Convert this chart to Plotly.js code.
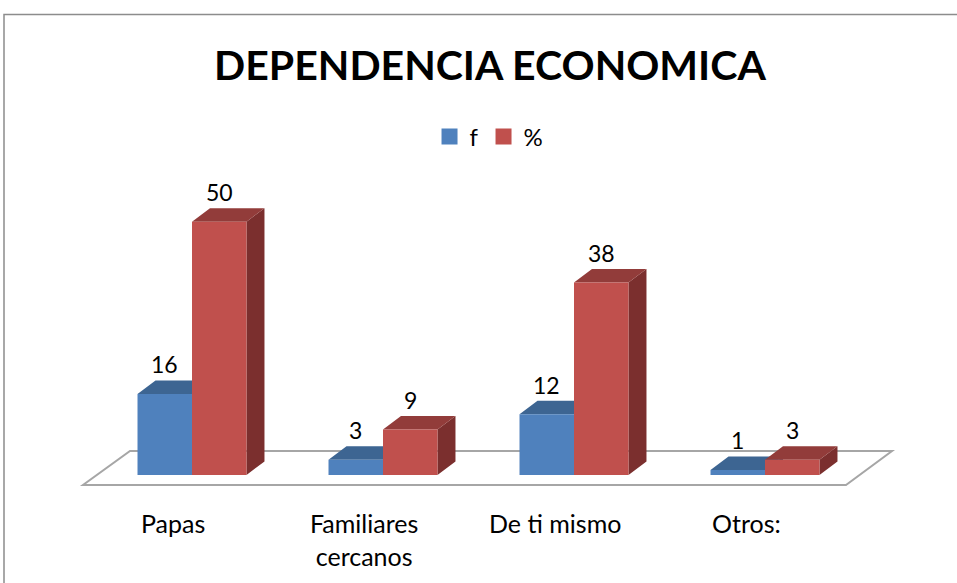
<!DOCTYPE html>
<html>
<head>
<meta charset="utf-8">
<script src="https://cdn.plot.ly/plotly-3.0.1.min.js"></script>
<style>html,body{margin:0;padding:0;background:#fff;}#chart{width:957px;height:583px;}</style>
</head>
<body>
<div id="chart"></div>
<script>
// ---- data ----
const categories = ['Papas', 'Familiares<br>cercanos', 'De ti mismo', 'Otros:'];
const fValues = [16, 3, 12, 1];
const pctValues = [50, 9, 38, 3];
const seriesNames = ['f', '%'];
const chartTitle = 'DEPENDENCIA ECONOMICA';

// ---- styling / geometry (axis units) ----
const FONT = 'Lato, "Open Sans", sans-serif';
const barW = 0.2853;      // width of one bar in category units
const depthX = 0.0942;    // 3D depth offset (x)
const depthY = 2.665;     // 3D depth offset (y, value units)
const colors = {
  f:   {front: '#4F81BD', top: '#3D6592', side: '#345780'},
  pct: {front: '#C0504D', top: '#923C3A', side: '#7B2F2E'}
};

function faces(values, offset) {
  const front = {x: [], y: []}, top = {x: [], y: []}, side = {x: [], y: []};
  values.forEach((v, i) => {
    const x0 = i + offset, x1 = x0 + barW;
    front.x.push(x0, x1, x1, x0, x0, null);
    front.y.push(0, 0, v, v, 0, null);
    top.x.push(x0, x1, x1 + depthX, x0 + depthX, x0, null);
    top.y.push(v, v, v + depthY, v + depthY, v, null);
    side.x.push(x1, x1 + depthX, x1 + depthX, x1, x1, null);
    side.y.push(0, depthY, v + depthY, v, 0, null);
  });
  return {front, top, side};
}

function polyTrace(pts, color) {
  return {
    type: 'scatter', mode: 'lines', x: pts.x, y: pts.y,
    fill: 'toself', fillcolor: color, line: {width: 0, color: color},
    hoverinfo: 'skip', showlegend: false
  };
}

const fF = faces(fValues, -barW);
const pF = faces(pctValues, 0);

const traces = [
  polyTrace(fF.side, colors.f.side),
  polyTrace(fF.top, colors.f.top),
  polyTrace(fF.front, colors.f.front),
  polyTrace(pF.side, colors.pct.side),
  polyTrace(pF.top, colors.pct.top),
  polyTrace(pF.front, colors.pct.front),
  {type: 'scatter', mode: 'markers', x: [null], y: [null], name: seriesNames[0],
   marker: {symbol: 'square', size: 16, color: colors.f.front}, showlegend: true},
  {type: 'scatter', mode: 'markers', x: [null], y: [null], name: seriesNames[1],
   marker: {symbol: 'square', size: 16, color: colors.pct.front}, showlegend: true}
];

const annotations = [];
fValues.forEach((v, i) => {
  annotations.push({x: i - barW / 2, y: v + depthY, text: String(v), showarrow: false,
    yanchor: 'bottom', font: {family: FONT, size: 23, color: '#000'}});
});
pctValues.forEach((v, i) => {
  annotations.push({x: i + barW / 2, y: v + depthY, text: String(v), showarrow: false,
    yanchor: 'bottom', font: {family: FONT, size: 23, color: '#000'}});
});
categories.forEach((c, i) => {
  annotations.push({x: i - 0.0995, y: -6.2, text: c, showarrow: false,
    yanchor: 'top', font: {family: FONT, size: 25, color: '#000'}});
});

const layout = {
  width: 957, height: 583,
  margin: {l: 0, r: 0, t: 0, b: 0, pad: 0},
  paper_bgcolor: '#fff', plot_bgcolor: '#fff',
  title: {text: '<b>' + chartTitle + '</b>', x: 0.512, xanchor: 'center', y: 0.887, yanchor: 'middle',
          font: {family: FONT, size: 41, color: '#000'}},
  showlegend: true,
  legend: {orientation: 'h', x: 0.511, xanchor: 'center', y: 0.765, yanchor: 'middle',
           font: {family: FONT, size: 24, color: '#000'}, itemwidth: 30, bgcolor: 'rgba(0,0,0,0)'},
  xaxis: {range: [-1.00524, 4.00524], visible: false, fixedrange: true},
  yaxis: {range: [-21.32, 93.76], visible: false, fixedrange: true},
  shapes: [
    // chart border
    {type: 'rect', xref: 'paper', yref: 'paper', x0: 4 / 957, x1: 1.02, y0: -0.02, y1: 1 - 14.5 / 583,
     line: {color: '#8C8C8C', width: 1.5}, layer: 'below'},
    // floor
    {type: 'path', xref: 'x', yref: 'y', layer: 'below',
     path: 'M -0.5707,-1.974 L 3.424,-1.974 L 3.665,4.737 L -0.3246,4.737 Z',
     line: {color: '#A6A6A6', width: 2}, fillcolor: 'rgba(0,0,0,0)'}
  ],
  annotations: annotations,
  hovermode: false
};

Plotly.newPlot('chart', traces, layout, {displayModeBar: false, staticPlot: true});
</script>
</body>
</html>
